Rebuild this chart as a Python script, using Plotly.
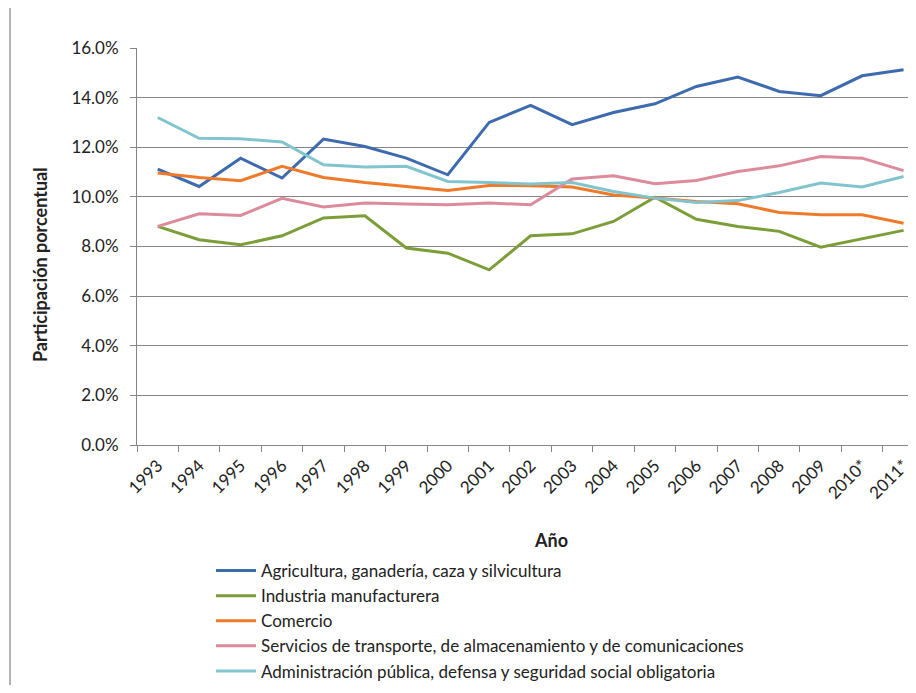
import plotly.graph_objects as go

years = ["1993", "1994", "1995", "1996", "1997", "1998", "1999", "2000", "2001", "2002",
         "2003", "2004", "2005", "2006", "2007", "2008", "2009", "2010*", "2011*"]

agricultura = [11.12, 10.42, 11.56, 10.76, 12.33, 12.03, 11.56, 10.89, 13.00, 13.69,
               12.91, 13.40, 13.75, 14.45, 14.83, 14.25, 14.08, 14.88, 15.12]
industria = [8.81, 8.27, 8.07, 8.43, 9.15, 9.24, 7.94, 7.73, 7.06, 8.43,
             8.51, 9.01, 9.99, 9.10, 8.81, 8.61, 7.97, 8.30, 8.65]
comercio = [10.96, 10.78, 10.65, 11.23, 10.78, 10.58, 10.42, 10.26, 10.46, 10.45,
            10.40, 10.08, 9.95, 9.81, 9.72, 9.37, 9.28, 9.28, 8.94]
servicios = [8.81, 9.32, 9.25, 9.94, 9.59, 9.75, 9.71, 9.68, 9.75, 9.68,
             10.72, 10.85, 10.53, 10.66, 11.02, 11.25, 11.63, 11.56, 11.06]
administracion = [13.20, 12.36, 12.34, 12.21, 11.29, 11.20, 11.23, 10.62, 10.58, 10.52,
                  10.58, 10.22, 9.95, 9.77, 9.85, 10.18, 10.56, 10.40, 10.82]

series = [
    ("Agricultura, ganadería, caza y silvicultura", agricultura, "#3E6AAE"),
    ("Industria manufacturera", industria, "#7B9E38"),
    ("Comercio", comercio, "#EE7A2A"),
    ("Servicios de transporte, de almacenamiento y de comunicaciones", servicios, "#DB8B9B"),
    ("Administración pública, defensa y seguridad social obligatoria", administracion, "#82C4CD"),
]

FONT = "Lato, 'Open Sans', sans-serif"

# page has an 8px body margin, so the figure is sized to fit inside the window
W, H = 908, 677
L, T, R, B = 129, 40, 0, 240
PW, PH = W - L - R, H - T - B

fig = go.Figure()
for name, vals, color in series:
    fig.add_trace(go.Scatter(
        x=years,
        y=[v / 100 for v in vals],
        mode="lines",
        name=name,
        line=dict(color=color, width=3),
    ))

fig.update_layout(
    width=W,
    height=H,
    margin=dict(l=L, r=R, t=T, b=B),
    plot_bgcolor="white",
    paper_bgcolor="white",
    font=dict(family=FONT, size=17, color="#222222"),
    showlegend=True,
    legend=dict(
        x=(211 - 137) / PW, xanchor="left",
        yref="container", y=1 - (553 - 8) / H, yanchor="top",
        font=dict(size=17, color="#222222"),
        tracegroupgap=0, itemwidth=40,
        bgcolor="rgba(0,0,0,0)",
    ),
)

fig.update_xaxes(
    type="category",
    range=[-0.5, 18.3],
    tickangle=-45,
    tickson="boundaries",
    ticks="outside",
    ticklen=6,
    tickcolor="#868686",
    showline=True,
    linecolor="#868686",
    linewidth=1,
    showgrid=False,
    tickfont=dict(size=17),
    ticklabelstandoff=3,
)
fig.update_yaxes(
    range=[0, 0.16],
    dtick=0.02,
    tickformat=".1%",
    ticks="outside",
    ticklen=6,
    tickcolor="#868686",
    showline=True,
    linecolor="#868686",
    linewidth=1,
    showgrid=True,
    gridcolor="#868686",
    gridwidth=1,
    zeroline=False,
    tickfont=dict(size=17),
    ticklabelstandoff=8,
)

# axis titles placed as annotations, matching the original positions
fig.add_annotation(text="<b>Año</b>", xref="paper", yref="paper",
                   x=(551 - 137) / PW, y=(445 - 540) / PH,
                   showarrow=False, font=dict(size=18), xanchor="center", yanchor="middle")
fig.add_annotation(text="<b>Participación porcentual</b>", xref="paper", yref="paper",
                   x=(40 - 137) / PW, y=(445 - 265) / PH, textangle=-90,
                   showarrow=False, font=dict(size=18), xanchor="center", yanchor="middle")

# left border line of the original chart frame
fig.add_shape(type="line", xref="paper", yref="paper",
              x0=(10 - 137) / PW, x1=(10 - 137) / PW,
              y0=(445 - 700) / PH, y1=(445 - 0) / PH,
              line=dict(color="#9A9A9A", width=1.5))

fig.write_html("out.html")
